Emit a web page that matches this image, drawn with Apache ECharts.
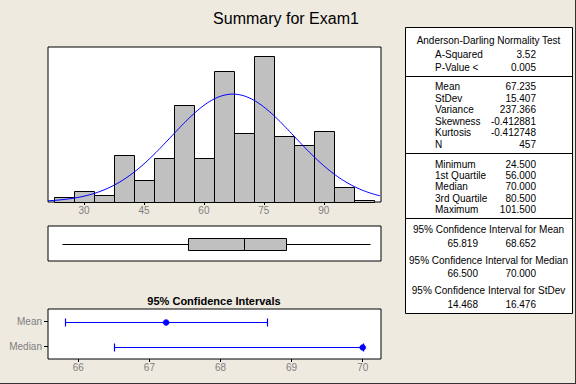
<!DOCTYPE html>
<html><head><meta charset="utf-8">
<script src="https://cdn.jsdelivr.net/npm/echarts@6/dist/echarts.min.js"></script>
<style>html,body{margin:0;padding:0;background:#EEEAE0;}#c{width:576px;height:384px;}</style>
</head><body><div id="c"></div>
<script>
// ---- data ----
const binCenters = [25,30,35,40,45,50,55,60,65,70,75,80,85,90,95,100];
const binCounts  = [3,6,4,26,12,24,53,24,72,38,80,36,31,39,8,1];
const binWidth = 5;
const histTicks = [30,45,60,75,90];
const MEAN = 67.235, STDEV = 15.407, NOBS = 457;
const boxStats = [24.5, 56.0, 70.0, 80.5, 101.5];
const ciCategories = ['Mean','Median'];
const ciLow  = [65.819, 66.5];
const ciHigh = [68.652, 70.0];
const ciEst  = [67.235, 70.0];
const ciTicks = [66,67,68,69,70];
const titleText = 'Summary for Exam1';
const ciPlotTitle = '95% Confidence Intervals';
const adTitle = 'Anderson-Darling Normality Test';
const adLabels = ['A-Squared','P-Value <'];
const adValues = ['3.52','0.005'];
const descLabels = ['Mean','StDev','Variance','Skewness','Kurtosis','N'];
const descValues = ['67.235','15.407','237.366','-0.412881','-0.412748','457'];
const quartLabels = ['Minimum','1st Quartile','Median','3rd Quartile','Maximum'];
const quartValues = ['24.500','56.000','70.000','80.500','101.500'];
const ciTitles = ['95% Confidence Interval for Mean','95% Confidence Interval for Median','95% Confidence Interval for StDev'];
const ciRowLow  = ['65.819','66.500','14.468'];
const ciRowHigh = ['68.652','70.000','16.476'];

// ---- fitted normal curve (from the reported mean / stdev) ----
const X_MIN = 21, X_MAX = 104.3;
const normalCurve = [];
for (let x = X_MIN; x <= X_MAX + 1e-9; x += 0.5) {
  const z = (x - MEAN) / STDEV;
  normalCurve.push([x, NOBS * binWidth * Math.exp(-0.5*z*z) / (STDEV*Math.sqrt(2*Math.PI))]);
}

const FONT = 'Liberation Sans';
const GRAY = '#808080';
const chart = echarts.init(document.getElementById('c'), null, {renderer:'svg'});

// ---- table graphic ----
const TX = 405, TY = 27, TW = 167, TH = 286;
const labX = 435, valX = 536;
const g = [];
function txt(s, x, y, align) {
  g.push({type:'text', x:x, y:y, style:{text:s, fill:'#000', font:'10px "'+FONT+'"', textAlign:align, textVerticalAlign:'middle'}});
}
function hline(y) {
  g.push({type:'line', shape:{x1:TX, y1:y, x2:TX+TW, y2:y}, style:{stroke:'#000', lineWidth:1}});
}
g.push({type:'rect', shape:{x:TX+0.5, y:TY+0.5, width:TW, height:TH}, style:{fill:'#fff', stroke:'#000', lineWidth:1}});
txt(adTitle, 488.5, 40.5, 'center');
adLabels.forEach((l,i)=>{ txt(l, labX, 54.5+i*13, 'left'); txt(adValues[i], valX, 54.5+i*13, 'right'); });
hline(76.5);
descLabels.forEach((l,i)=>{ txt(l, labX, 86.5+i*11.5, 'left'); txt(descValues[i], valX, 86.5+i*11.5, 'right'); });
hline(153.5);
quartLabels.forEach((l,i)=>{ txt(l, labX, 164.5+i*11.2, 'left'); txt(quartValues[i], valX, 164.5+i*11.2, 'right'); });
hline(218.5);
ciTitles.forEach((t,i)=>{
  const y0 = 229.5 + i*30.5;
  txt(t, 488.5, y0, 'center');
  txt(ciRowLow[i], 478, y0+13.5, 'right');
  txt(ciRowHigh[i], 536, y0+13.5, 'right');
});
// main title and CI plot title
g.push({type:'text', x:286, y:18, style:{text:titleText, fill:'#000', font:'16px "'+FONT+'"', textAlign:'center', textVerticalAlign:'middle'}});
g.push({type:'text', x:214, y:301, style:{text:ciPlotTitle, fill:'#000', font:'bold 11px "'+FONT+'"', textAlign:'center', textVerticalAlign:'middle'}});
// outer frame edges
g.push({type:'line', shape:{x1:575.5, y1:0, x2:575.5, y2:384}, style:{stroke:'#333', lineWidth:1}});
g.push({type:'line', shape:{x1:0, y1:383.5, x2:576, y2:383.5}, style:{stroke:'#333', lineWidth:1}});

const gridStyle = {show:true, backgroundColor:'#fff', borderColor:'#000', borderWidth:1};

const option = {
  animation:false,
  backgroundColor:'#EEEAE0',
  textStyle:{fontFamily:FONT},
  grid:[
    Object.assign({left:48, top:47, width:333, height:155}, gridStyle),
    Object.assign({left:48, top:226, width:333, height:35}, gridStyle),
    Object.assign({left:48, top:309, width:333, height:50}, gridStyle)
  ],
  xAxis:[
    {gridIndex:0, type:'value', min:X_MIN, max:X_MAX, splitLine:{show:false}, axisLine:{show:false},
     axisTick:{show:true, customValues:histTicks, length:3, lineStyle:{color:'#000'}},
     axisLabel:{customValues:histTicks, color:GRAY, fontSize:10, margin:3, fontFamily:FONT}},
    {gridIndex:1, type:'value', min:X_MIN, max:X_MAX, show:false},
    {gridIndex:2, type:'value', min:65.574, max:70.257, splitLine:{show:false}, axisLine:{show:false},
     axisTick:{show:true, customValues:ciTicks, length:3, lineStyle:{color:'#000'}},
     axisLabel:{customValues:ciTicks, color:GRAY, fontSize:10, margin:3, fontFamily:FONT}}
  ],
  yAxis:[
    {gridIndex:0, type:'value', min:0, max:85, show:false},
    {gridIndex:1, type:'category', data:['Exam1'], show:false},
    {gridIndex:2, type:'category', data:ciCategories, inverse:true, axisLine:{show:false}, splitLine:{show:false},
     axisTick:{show:true, alignWithLabel:true, length:4, lineStyle:{color:'#000'}},
     axisLabel:{color:GRAY, fontSize:10, margin:6, fontFamily:FONT}}
  ],
  series:[
    {type:'custom', xAxisIndex:0, yAxisIndex:0, z:2,
     data: binCenters.map((c,i)=>[c, binCounts[i]]),
     renderItem:function(params, api){
       const c = api.value(0), h = api.value(1);
       const p0 = api.coord([c - binWidth/2, h]);
       const p1 = api.coord([c + binWidth/2, 0]);
       const x0 = Math.round(p0[0])+0.5, x1 = Math.round(p1[0])+0.5;
       const y0 = Math.round(p0[1])+0.5, y1 = Math.round(p1[1])+0.5;
       return {type:'rect', shape:{x:x0, y:y0, width:x1-x0, height:y1-y0},
               style:{fill:'#C0C0C0', stroke:'#000', lineWidth:1}};
     }},
    {type:'line', xAxisIndex:0, yAxisIndex:0, z:3, data:normalCurve, showSymbol:false, symbol:'none',
     lineStyle:{color:'#0000FF', width:1}, clip:true},
    {type:'custom', xAxisIndex:1, yAxisIndex:1, z:2,
     data:[[0].concat(boxStats)],
     encode:{x:[1,2,3,4,5], y:0},
     renderItem:function(params, api){
       const v = [1,2,3,4,5].map(i=>api.value(i));
       const pts = v.map(x=>api.coord([x, 0]));
       const y = Math.round(pts[0][1]) + 0.5;
       const X = pts.map(p=>Math.round(p[0])+0.5);
       const hh = 6;
       const ls = {stroke:'#000', lineWidth:1};
       return {type:'group', children:[
         {type:'line', shape:{x1:X[0], y1:y, x2:X[1], y2:y}, style:ls},
         {type:'line', shape:{x1:X[3], y1:y, x2:X[4], y2:y}, style:ls},
         {type:'rect', shape:{x:X[1], y:y-hh, width:X[3]-X[1], height:2*hh}, style:{fill:'#C0C0C0', stroke:'#000', lineWidth:1}},
         {type:'line', shape:{x1:X[2], y1:y-hh, x2:X[2], y2:y+hh}, style:ls}
       ]};
     }},
    {type:'custom', xAxisIndex:2, yAxisIndex:2, z:3,
     data: ciCategories.map((c,i)=>[i, ciLow[i], ciHigh[i], ciEst[i]]),
     encode:{x:[1,2,3], y:0},
     renderItem:function(params, api){
       const i = api.value(0);
       const pl = api.coord([api.value(1), i]);
       const ph = api.coord([api.value(2), i]);
       const pe = api.coord([api.value(3), i]);
       const y = Math.round(pl[1]) + 0.5;
       const xl = Math.round(pl[0])+0.5, xh = Math.round(ph[0])+0.5;
       const ls = {stroke:'#0000FF', lineWidth:1.2};
       return {type:'group', children:[
         {type:'line', shape:{x1:xl, y1:y, x2:xh, y2:y}, style:ls},
         {type:'line', shape:{x1:xl, y1:y-4, x2:xl, y2:y+4}, style:ls},
         {type:'line', shape:{x1:xh, y1:y-4, x2:xh, y2:y+4}, style:ls},
         {type:'circle', shape:{cx:pe[0], cy:y, r:3}, style:{fill:'#0000FF', stroke:'#0000FF', lineWidth:0.5}}
       ]};
     }}
  ],
  graphic: g
};
chart.setOption(option);
</script>
</body></html>
